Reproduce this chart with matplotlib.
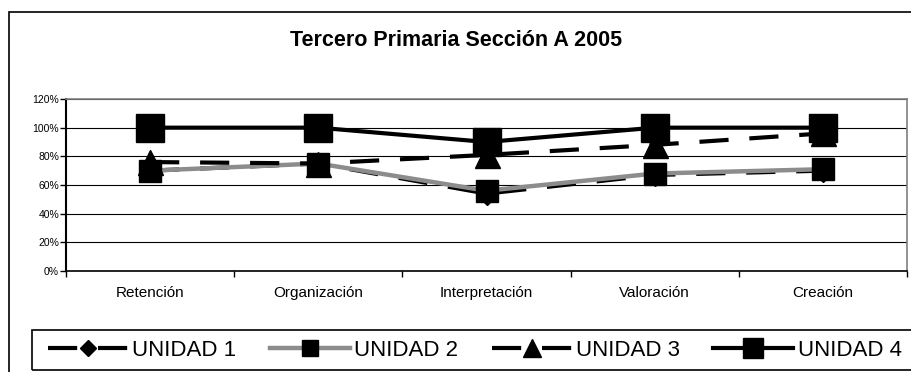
import matplotlib.pyplot as plt
from matplotlib.patches import Rectangle
from matplotlib.ticker import FuncFormatter, MultipleLocator

plt.rcParams['font.family'] = ['Liberation Sans', 'DejaVu Sans']

categories = ['Retención', 'Organización', 'Interpretación', 'Valoración', 'Creación']
unidad1 = [70, 75, 54, 67, 70]
unidad2 = [70, 75, 56, 68, 71]
unidad3 = [76, 75, 81, 88, 96]
unidad4 = [100, 100, 90, 100, 100]
series_names = ['UNIDAD 1', 'UNIDAD 2', 'UNIDAD 3', 'UNIDAD 4']

W, H = 912, 372
fig = plt.figure(figsize=(W / 100, H / 100), dpi=100)

# outer chart border (cut off on right and bottom like the original)
fig.patches.append(Rectangle((9 / W, -0.1), 1.2, 1 - 12 / H + 0.1, transform=fig.transFigure,
                             fill=False, edgecolor='black', linewidth=1.2))
# legend box, also running past the right edge
fig.patches.append(Rectangle((32 / W, 1 - 370 / H), 1.2, 40 / H, transform=fig.transFigure,
                             fill=False, edgecolor='black', linewidth=1.2))

ax = fig.add_axes([66 / W, 1 - 271 / H, (907 - 66) / W, (271 - 99) / H])
x = range(len(categories))

dash = (0, (7, 5))
ax.plot(x, unidad1, color='black', linestyle=dash, linewidth=3, marker='D', markersize=11,
        label=series_names[0], zorder=3)
ax.plot(x, unidad2, color='#8c8c8c', linewidth=3.2, marker='s', markersize=16,
        markerfacecolor='black', markeredgecolor='black', label=series_names[1], zorder=4)
ax.plot(x, unidad3, color='black', linestyle=dash, linewidth=3, marker='^', markersize=18,
        label=series_names[2], zorder=5)
ax.plot(x, unidad4, color='black', linewidth=3, marker='s', markersize=20,
        label=series_names[3], zorder=6)

ax.set_xlim(-0.5, len(categories) - 0.5)
ax.set_ylim(0, 120)
ax.yaxis.set_major_locator(MultipleLocator(20))
ax.yaxis.set_major_formatter(FuncFormatter(lambda v, p: f'{v:.0f}%'))
ax.grid(axis='y', color='black', linewidth=0.8)
ax.set_axisbelow(True)

ax.set_xticks(list(x))
ax.set_xticklabels(categories, fontsize=11)
ax.set_xticks([i - 0.5 for i in range(len(categories) + 1)], minor=True)
ax.tick_params(axis='x', which='major', length=0, pad=11)
ax.tick_params(axis='x', which='minor', length=4, direction='out', width=1)
ax.tick_params(axis='y', length=4, direction='out', labelsize=7.5, pad=1, width=1)

ax.spines['left'].set_linewidth(1.5)
ax.spines['bottom'].set_linewidth(1.2)
for s in ['top', 'right']:
    ax.spines[s].set_color('#808080')
    ax.spines[s].set_linewidth(1.2)

fig.text(0.5, 1 - 40 / H, 'Tercero Primaria Sección A 2005', ha='center', va='center',
         fontsize=15.5, fontweight='bold')

handles, labels = ax.get_legend_handles_labels()
leg = fig.legend(handles, labels, loc='center left', bbox_to_anchor=(48 / W, 1 - 350 / H),
                 ncol=4, fontsize=16, frameon=False, handlelength=3.6,
                 handletextpad=0.2, columnspacing=1.5, markerscale=0.75,
                 borderpad=0, borderaxespad=0)

fig.savefig('out.png', dpi=100)
